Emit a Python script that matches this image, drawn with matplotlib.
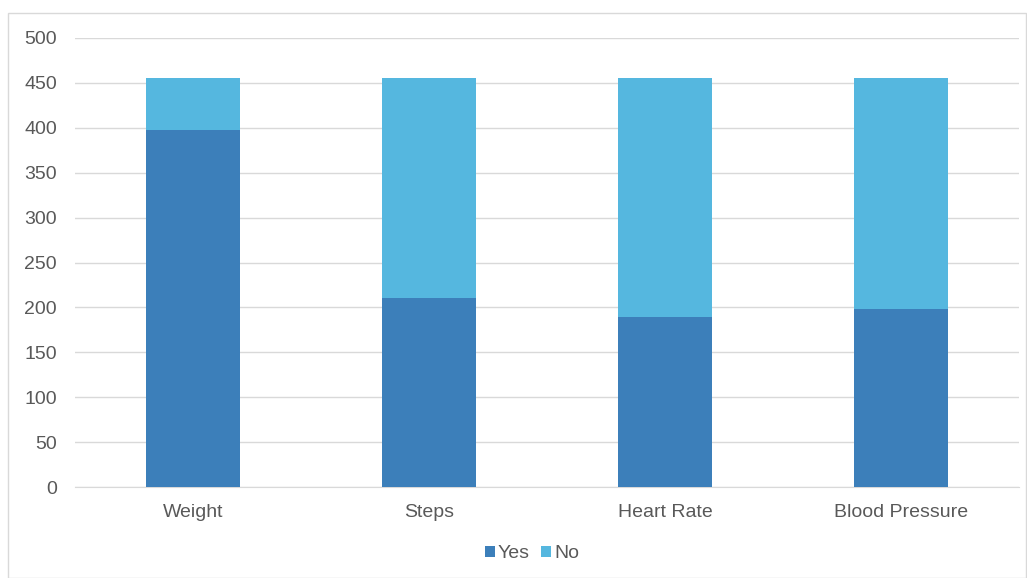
import matplotlib.pyplot as plt
import numpy as np
from matplotlib.patches import Rectangle

plt.rcParams['font.family'] = ['Liberation Sans', 'DejaVu Sans']

categories = ['Weight', 'Steps', 'Heart Rate', 'Blood Pressure']
yes_vals = [398, 210, 189, 198]
no_vals = [57, 245, 266, 257]

yes_color = '#3c7fba'
no_color = '#55b7df'
text_color = '#595959'

fig = plt.figure(figsize=(10.27, 5.78), dpi=100)
# outer chart border
fig.patches.append(Rectangle((8 / 1027, 0), 1 - 8 / 1027 - 0.001, 1 - 13 / 578,
                             transform=fig.transFigure, fill=False,
                             edgecolor='#d9d9d9', linewidth=1))

ax = fig.add_axes([75 / 1027, 91 / 578, 944 / 1027, 449 / 578])
x = np.arange(len(categories))
ax.bar(x, yes_vals, width=0.395, color=yes_color, label='Yes', zorder=3)
ax.bar(x, no_vals, width=0.395, bottom=yes_vals, color=no_color, label='No', zorder=3)

ax.set_xlim(-0.5, len(categories) - 0.5)
ax.set_ylim(0, 500)
ax.set_yticks(range(0, 501, 50))
ax.set_xticks(x)
ax.set_xticklabels(categories)
ax.grid(axis='y', color='#d9d9d9', linewidth=1, zorder=0)
for s in ['top', 'right', 'left']:
    ax.spines[s].set_visible(False)
ax.spines['bottom'].set_color('#d9d9d9')
ax.tick_params(axis='both', length=0, labelsize=14, colors=text_color)
ax.tick_params(axis='x', pad=12.5)
ax.tick_params(axis='y', pad=13)

ax.legend(loc='center', bbox_to_anchor=(532 / 1027, 24 / 578), bbox_transform=fig.transFigure,
          ncol=2, frameon=False, fontsize=14, labelcolor=text_color,
          handlelength=0.5, handleheight=0.5, handletextpad=0.15, columnspacing=0.6)

fig.savefig('out.png', dpi=100)
